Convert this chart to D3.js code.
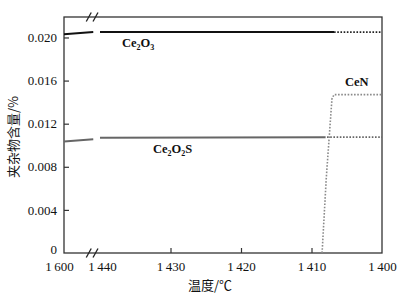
<!DOCTYPE html>
<html>
<head>
<meta charset="utf-8">
<script src="https://cdn.jsdelivr.net/npm/d3@7"></script>
<style>
  body { margin: 0; background: #fff; }
  svg text { font-family: "Liberation Serif", "DejaVu Serif", serif; }
</style>
</head>
<body>
<div id="chart"></div>
<script>
// data (temperature in degC, content in %)
var xTicks = [1600, 1440, 1430, 1420, 1410, 1400];
var yTicks = [0, 0.004, 0.008, 0.012, 0.016, 0.020];

var ce2o3Left = [[1600, 0.0203], [1470, 0.0205]];
var ce2o3Solid = [[1440, 0.0205], [1406.8, 0.0205]];
var ce2o3Dot = [[1406.8, 0.0205], [1400, 0.0205]];

var ce2o2sLeft = [[1600, 0.01035], [1470, 0.01055]];
var ce2o2sSolid = [[1440, 0.0107], [1408.0, 0.01075]];
var ce2o2sDot = [[1407.8, 0.01075], [1400, 0.01075]];

var cenDot = [[1408.5, 0], [1407.9, 0.007], [1407.1, 0.0143], [1406.8, 0.0147], [1400, 0.0147]];

var W = 412, H = 299;
var margin = {top: 17, right: 30, bottom: 46, left: 64};

var svg = d3.select("#chart").append("svg")
  .attr("width", W)
  .attr("height", H);

// broken axis: 1600..1440 squeezed into a short piece
var x = d3.scaleLinear()
  .domain([1600, 1440, 1400])
  .range([margin.left, 100, W - margin.right]);
var y = d3.scaleLinear()
  .domain([0, 0.0219])
  .range([H - margin.bottom, margin.top]);

var line = d3.line()
  .x(function(d) { return x(d[0]); })
  .y(function(d) { return y(d[1]); });

// frame
svg.append("rect")
  .attr("x", margin.left).attr("y", margin.top)
  .attr("width", W - margin.right - margin.left)
  .attr("height", H - margin.bottom - margin.top)
  .attr("fill", "none")
  .attr("stroke", "#333")
  .attr("stroke-width", 1.3);

var xAxis = svg.append("g")
  .attr("transform", "translate(0," + (H - margin.bottom) + ")")
  .call(d3.axisBottom(x)
    .tickValues(xTicks)
    .tickSizeInner(-5)
    .tickSizeOuter(0)
    .tickPadding(9)
    .tickFormat(function(d) { return String(d).replace(/^(\d)(\d{3})$/, "$1\u2009$2"); }));
xAxis.select(".domain").remove();
xAxis.selectAll(".tick line")
  .attr("stroke", "#333")
  .attr("stroke-width", 1.2)
  .attr("display", function(d) { return (d == 1600 || d == 1440 || d == 1400) ? "none" : null; });
xAxis.selectAll(".tick text")
  .attr("font-size", 13)
  .attr("fill", "#111")
  .attr("dx", function(d) { return d == 1600 ? -5 : (d == 1440 ? 2 : 0); });

var yAxis = svg.append("g")
  .attr("transform", "translate(" + margin.left + ",0)")
  .call(d3.axisLeft(y)
    .tickValues(yTicks)
    .tickSizeInner(-5)
    .tickSizeOuter(0)
    .tickPadding(7)
    .tickFormat(function(d) { return d == 0 ? "0" : d.toFixed(3); }));
yAxis.select(".domain").remove();
yAxis.selectAll(".tick line")
  .attr("stroke", "#333")
  .attr("stroke-width", 1.2)
  .attr("display", function(d) { return d == 0 ? "none" : null; });
yAxis.selectAll(".tick text")
  .attr("font-size", 13)
  .attr("fill", "#111")
  .attr("dy", function(d) { return d == 0 ? "0.05em" : "0.32em"; });

// break marks on top and bottom edges
[margin.top, H - margin.bottom].forEach(function(yy) {
  [x(1490), x(1460)].forEach(function(xx) {
    svg.append("line")
      .attr("x1", xx - 2.5).attr("y1", yy + 4.5)
      .attr("x2", xx + 2.5).attr("y2", yy - 4.5)
      .attr("stroke", "#222")
      .attr("stroke-width", 1.3);
  });
});

// series
function solid(data, color, w) {
  svg.append("path").datum(data)
    .attr("d", line)
    .attr("fill", "none")
    .attr("stroke", color)
    .attr("stroke-width", w);
}
function dotted(data, color, w) {
  svg.append("path").datum(data)
    .attr("d", line)
    .attr("fill", "none")
    .attr("stroke", color)
    .attr("stroke-width", w)
    .attr("stroke-dasharray", "1.6,1.6");
}

solid(ce2o3Left, "#111", 2);
solid(ce2o3Solid, "#111", 2);
dotted(ce2o3Dot, "#222", 1.8);

solid(ce2o2sLeft, "#666", 2);
solid(ce2o2sSolid, "#666", 2);
dotted(ce2o2sDot, "#666", 1.8);

dotted(cenDot, "#8a8a8a", 1.6);

// series labels
function label(xx, yy, parts) {
  var t = svg.append("text")
    .attr("x", xx).attr("y", yy)
    .attr("font-size", 12.5)
    .attr("font-weight", "bold")
    .attr("fill", "#111");
  parts.forEach(function(p) {
    var s = t.append("tspan").text(p[0]);
    if (p[1]) s.attr("font-size", 8).attr("dy", 3);
    else if (p[2]) s.attr("dy", -3);
  });
}
label(122, 47, [["Ce"], ["2", true], ["O", false, true], ["3", true]]);
label(153, 153, [["Ce"], ["2", true], ["O", false, true], ["2", true], ["S", false, true]]);
label(345, 86, [["CeN"]]);

// axis titles
svg.append("text")
  .attr("x", 210).attr("y", 290)
  .attr("text-anchor", "middle")
  .attr("font-size", 13)
  .style("font-family", "'Noto Sans CJK SC', sans-serif")
  .attr("fill", "#111")
  .text("温度/℃");

svg.append("text")
  .attr("transform", "translate(18,137) rotate(-90)")
  .attr("text-anchor", "middle")
  .attr("font-size", 13)
  .style("font-family", "'Noto Sans CJK SC', sans-serif")
  .attr("fill", "#111")
  .text("夹杂物含量/%");
</script>
</body>
</html>
